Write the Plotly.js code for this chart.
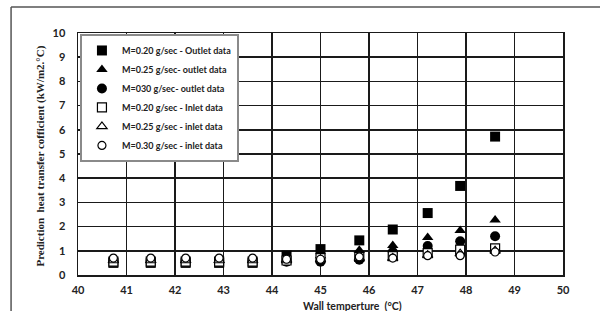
<!DOCTYPE html>
<html>
<head>
<meta charset="utf-8">
<script src="https://cdn.plot.ly/plotly-3.0.1.min.js"></script>
<style>html,body{margin:0;padding:0;background:#fff;}#chart{width:600px;height:311px;}</style>
</head>
<body>
<div id="chart"></div>
<script>
// Wall temperature (°C)
const wallTemp = [40.73, 41.5, 42.22, 42.91, 43.6, 44.3, 45.0, 45.8, 46.49, 47.21, 47.88, 48.6];

// Prediction heat transfer coefficient (kW/m2.°C)
const outlet020 = [0.50, 0.50, 0.50, 0.50, 0.50, 0.80, 1.07, 1.43, 1.88, 2.56, 3.68, 5.72];
const outlet025 = [0.60, 0.60, 0.60, 0.60, 0.60, 0.65, 0.80, 1.02, 1.22, 1.55, 1.84, 2.27];
const outlet030 = [0.60, 0.60, 0.60, 0.60, 0.60, 0.55, 0.55, 0.63, 0.95, 1.20, 1.39, 1.60];
const inlet020  = [0.55, 0.55, 0.55, 0.55, 0.55, 0.60, 0.70, 0.75, 0.78, 0.90, 1.05, 1.10];
const inlet025  = [0.60, 0.60, 0.60, 0.60, 0.60, 0.60, 0.65, 0.70, 0.70, 0.82, 0.88, 1.00];
const inlet030  = [0.70, 0.70, 0.70, 0.70, 0.70, 0.65, 0.65, 0.75, 0.70, 0.80, 0.80, 0.95];

const names = [
  'M=0.20 g/sec - Outlet data',
  'M=0.25 g/sec- outlet data',
  'M=030 g/sec- outlet data',
  'M=0.20 g/sec - Inlet data',
  'M=0.25 g/sec - inlet data',
  'M=0.30 g/sec - inlet data'
];
const xTicks = [40, 41, 42, 43, 44, 45, 46, 47, 48, 49, 50];
const yTicks = [0, 1, 2, 3, 4, 5, 6, 7, 8, 9, 10];

function tr(y, name, symbol, size, filled) {
  return {
    x: wallTemp, y: y, name: name, type: 'scatter', mode: 'markers',
    marker: {
      symbol: symbol, size: size,
      color: filled ? '#000000' : '#ffffff',
      line: {color: '#000000', width: filled ? 0 : 1.2}
    }
  };
}

const data = [
  tr(outlet020, names[0], 'square', 10, true),
  tr(outlet025, names[1], 'triangle-up', 10, true),
  tr(outlet030, names[2], 'circle', 10, true),
  tr(inlet020, names[3], 'square', 9, false),
  tr(inlet025, names[4], 'triangle-up', 9, false),
  tr(inlet030, names[5], 'circle', 8, false)
];

const tickFont = {family: 'Lato, "Open Sans", sans-serif', size: 11, color: '#222', weight: 'bold'};

const layout = {
  width: 600, height: 311,
  margin: {l: 78, r: 37, t: 33, b: 36},
  paper_bgcolor: '#ffffff', plot_bgcolor: '#ffffff',
  showlegend: true,
  legend: {
    x: 0.004, y: 0.996, xanchor: 'left', yanchor: 'top',
    bgcolor: '#ffffff', bordercolor: '#8a8a8a', borderwidth: 2,
    font: {family: 'Lato, "Open Sans", sans-serif', size: 9, color: '#222', weight: 'bold'},
    itemwidth: 30, tracegroupgap: 0
  },
  xaxis: {
    range: [40, 50], tickvals: xTicks, ticktext: xTicks.map(String),
    showgrid: true, gridcolor: '#1a1a1a', gridwidth: 1.5,
    showline: true, linecolor: '#1a1a1a', linewidth: 1.5, mirror: true,
    zeroline: false, ticks: '', tickfont: tickFont, ticklabelstandoff: 4,
    fixedrange: true
  },
  yaxis: {
    range: [0, 10], tickvals: yTicks, ticktext: yTicks.map(String),
    showgrid: true, gridcolor: '#1a1a1a', gridwidth: 1.5,
    showline: true, linecolor: '#1a1a1a', linewidth: 1.5, mirror: true,
    zeroline: false, ticks: '', tickfont: tickFont, ticklabelstandoff: 9,
    fixedrange: true
  },
  annotations: [
    {
      text: 'Wall temperture  (°C)', xref: 'paper', yref: 'paper',
      x: 0.567, y: -0.094, xanchor: 'center', yanchor: 'top', showarrow: false,
      font: {family: 'Lato, "Open Sans", sans-serif', size: 10.5, color: '#222', weight: 'bold'}
    },
    {
      text: 'Prediction  heat transfer cofficient (kW/m2.°C)', xref: 'paper', yref: 'paper',
      x: -0.078, y: 0.49, xanchor: 'center', yanchor: 'middle', textangle: -90, showarrow: false,
      font: {family: '"Liberation Serif", "Times New Roman", serif', size: 11, color: '#222', weight: 'bold'}
    }
  ],
  shapes: [
    {type: 'line', xref: 'paper', yref: 'paper', x0: -0.138, x1: -0.138, y0: 1.107, y1: -0.16,
     line: {color: '#555', width: 1.5}},
    {type: 'line', xref: 'paper', yref: 'paper', x0: -0.138, x1: 1.08, y0: 1.107, y1: 1.107,
     line: {color: '#555', width: 1.5}}
  ]
};

Plotly.newPlot('chart', data, layout, {displayModeBar: false, staticPlot: true});
</script>
</body>
</html>
